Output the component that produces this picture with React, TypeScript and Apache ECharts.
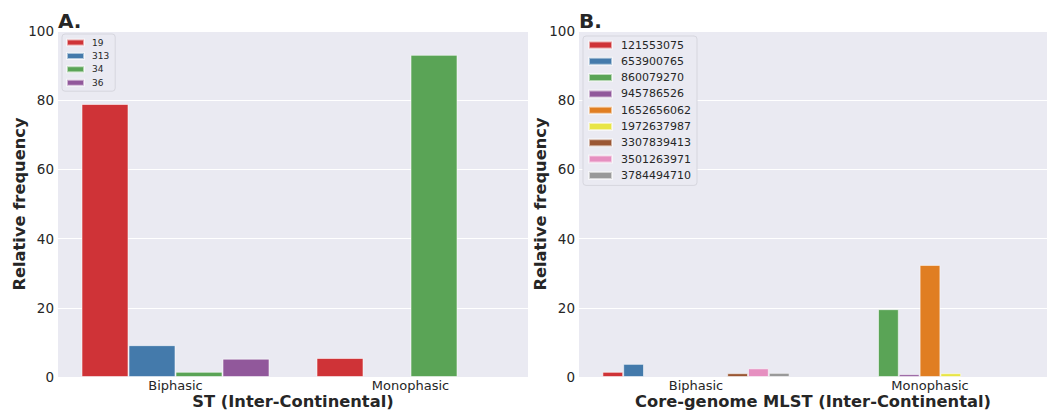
import React, { useEffect, useRef } from "react";
import * as echarts from "echarts";

const categories = ["Biphasic", "Monophasic"];

// Panel A: ST (Inter-Continental)
const stNames = ["19", "313", "34", "36"];
const stValues: (number | null)[][] = [
  [78.9, 5.5],
  [9.2, null],
  [1.5, 93.1],
  [5.3, null],
];

// Panel B: Core-genome MLST (Inter-Continental)
const cgNames = [
  "121553075",
  "653900765",
  "860079270",
  "945786526",
  "1652656062",
  "1972637987",
  "3307839413",
  "3501263971",
  "3784494710",
];
const cgValues: (number | null)[][] = [
  [1.5, null],
  [3.8, null],
  [null, 19.6],
  [null, 0.8],
  [null, 32.4],
  [null, 1.1],
  [1.1, null],
  [2.5, null],
  [1.2, null],
];

const palette = [
  "#cf3337",
  "#447aab",
  "#5aa456",
  "#91589b",
  "#e07e22",
  "#e8e545",
  "#9a5633",
  "#e68fc0",
  "#999999",
];

const FONT = "DejaVu Sans";
const TXT = "#262626";

export default function App() {
  const ref = useRef<HTMLDivElement>(null);
  useEffect(() => {
    if (!ref.current) return;
    const chart = echarts.init(ref.current, undefined, { renderer: "svg" });

    const yAxisBase = (gridIndex: number) => ({
      type: "value" as const,
      gridIndex,
      min: 0,
      max: 100,
      interval: 20,
      name: "Relative frequency",
      nameLocation: "middle" as const,
      nameGap: 31,
      nameMoveOverlap: false,
      nameTextStyle: { fontFamily: FONT, fontSize: 16.3, fontWeight: "bold" as const, color: TXT },
      axisLine: { show: false },
      axisTick: { show: false },
      axisLabel: { fontFamily: FONT, fontSize: 13.5, color: TXT, margin: 4 },
      splitLine: { show: true, lineStyle: { color: "#ffffff", width: 1 } },
    });
    const xAxisBase = (gridIndex: number, name: string) => ({
      type: "category" as const,
      gridIndex,
      data: categories,
      name,
      nameLocation: "middle" as const,
      nameGap: 16,
      nameMoveOverlap: false,
      nameTextStyle: { fontFamily: FONT, fontSize: 16.3, fontWeight: "bold" as const, color: TXT, lineHeight: 17 },
      axisLine: { show: false },
      axisTick: { show: false },
      axisLabel: { fontFamily: FONT, fontSize: 13, color: TXT, margin: 2, lineHeight: 13 },
      splitLine: { show: false },
    });

    const barStyle = (color: string) => ({
      color,
      borderColor: "rgba(255,255,255,0.55)",
      borderWidth: 1,
    });

    const seriesA = stNames.map((n, i) => ({
      type: "bar" as const,
      name: n,
      xAxisIndex: 0,
      yAxisIndex: 0,
      data: stValues[i],
      barGap: "0%",
      barCategoryGap: "20%",
      itemStyle: barStyle(palette[i]),
    }));
    const seriesB = cgNames.map((n, i) => ({
      type: "bar" as const,
      name: n,
      xAxisIndex: 1,
      yAxisIndex: 1,
      data: cgValues[i],
      barGap: "0%",
      barCategoryGap: "20%",
      itemStyle: barStyle(palette[i]),
    }));

    chart.setOption({
      animation: false,
      backgroundColor: "#ffffff",
      color: palette,
      textStyle: { fontFamily: FONT },
      grid: [
        { left: 58, width: 470, top: 31, bottom: 36, backgroundColor: "#eaeaf2", show: true, borderWidth: 0, outerBoundsMode: "none", containLabel: false },
        { left: 579, width: 468, top: 31, bottom: 36, backgroundColor: "#eaeaf2", show: true, borderWidth: 0, outerBoundsMode: "none", containLabel: false },
      ],
      xAxis: [xAxisBase(0, "ST (Inter-Continental)"), xAxisBase(1, "Core-genome MLST (Inter-Continental)")],
      yAxis: [yAxisBase(0), yAxisBase(1)],
      legend: [
        {
          data: stNames,
          orient: "vertical",
          left: 62,
          top: 34,
          itemWidth: 17,
          itemHeight: 6,
          itemGap: 2.4,
          padding: [3, 6, 3, 4],
          backgroundColor: "#eaeaf2",
          borderColor: "#d6d6de",
          borderWidth: 1,
          borderRadius: 3,
          selectedMode: false,
          icon: "rect",
          textStyle: { fontFamily: FONT, fontSize: 9, color: TXT, lineHeight: 11, padding: [0, 0, 0, 3] },
        },
        {
          data: cgNames,
          orient: "vertical",
          left: 583,
          top: 36,
          itemWidth: 23,
          itemHeight: 7,
          itemGap: 2.3,
          padding: [2, 6, 3, 5],
          backgroundColor: "#eaeaf2",
          borderColor: "#d6d6de",
          borderWidth: 1,
          borderRadius: 3,
          selectedMode: false,
          icon: "rect",
          textStyle: { fontFamily: FONT, fontSize: 11, color: TXT, lineHeight: 14, padding: [0, 0, 0, 4] },
        },
      ],
      graphic: [
        { type: "text", left: 58, top: 11, style: { text: "A.", fontFamily: FONT, fontSize: 20, fontWeight: "bold", fill: TXT } },
        { type: "text", left: 579, top: 11, style: { text: "B.", fontFamily: FONT, fontSize: 20, fontWeight: "bold", fill: TXT } },
      ],
      series: [...seriesA, ...seriesB],
    });
    return () => chart.dispose();
  }, []);

  return <div ref={ref} style={{ width: 1054, height: 413, position: "absolute", left: 0, top: 0 }} />;
}
